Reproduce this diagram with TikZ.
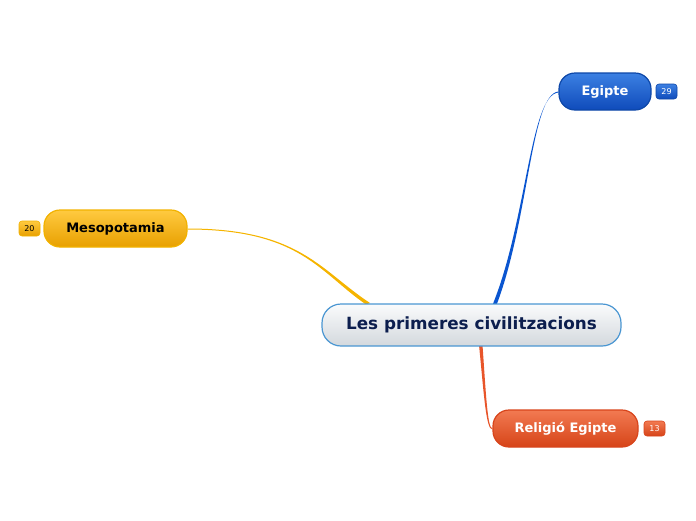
\documentclass[tikz,border=0pt]{standalone}
\usepackage{fontspec}
\setmainfont{DejaVu Sans}
\usetikzlibrary{backgrounds,calc}
\definecolor{cborder}{HTML}{4A96D2}
\definecolor{ctext}{HTML}{0C1E4E}
\definecolor{ctop}{HTML}{FAFBFC}
\definecolor{cbot}{HTML}{D3D8DD}
\definecolor{btop}{HTML}{3C80E2}
\definecolor{bbot}{HTML}{0F4BBB}
\definecolor{bborder}{HTML}{0D47A8}
\definecolor{bline}{HTML}{0A55D0}
\definecolor{ytop}{HTML}{FFCA40}
\definecolor{ybot}{HTML}{E8A000}
\definecolor{yborder}{HTML}{F2B200}
\definecolor{yline}{HTML}{F5B400}
\definecolor{rtop}{HTML}{F27A52}
\definecolor{rbot}{HTML}{D64418}
\definecolor{rborder}{HTML}{D8451C}
\definecolor{rline}{HTML}{E8552A}
\tikzset{
  topic/.style={rectangle, rounded corners=16pt, inner sep=0pt, line width=1.2pt, font=\bfseries\fontsize{13}{15}\selectfont},
  badge/.style={rectangle, rounded corners=3pt, inner sep=0pt, minimum width=21pt, minimum height=15pt, line width=0.6pt, font=\fontsize{8}{9}\selectfont},
}
\begin{document}
\begin{tikzpicture}[x=1pt,y=-1pt]
\useasboundingbox (0,0) rectangle (696,520);
% central
\node[topic, rounded corners=19pt, draw=cborder, top color=ctop, bottom color=cbot, text=ctext,
  minimum width=299pt, minimum height=42pt, font=\bfseries\fontsize{16.8}{19}\selectfont] (c) at (471.5,325) {Les primeres civilitzacions};
% Egipte
\node[topic, draw=bborder, top color=btop, bottom color=bbot, text=white,
  minimum width=92pt, minimum height=37pt] (eg) at (605,91.5) {Egipte};
\node[badge, draw=bborder, top color=btop, bottom color=bbot, text=white] (egb) at (666.5,91.5) {29};
% Mesopotamia
\node[topic, draw=yborder, top color=ytop, bottom color=ybot, text=black,
  minimum width=143pt, minimum height=37pt] (me) at (115.5,228.5) {Mesopotamia};
\node[badge, draw=yborder, top color=ytop, bottom color=ybot, text=black] (meb) at (29.5,228.5) {20};
% Religio
\node[topic, draw=rborder, top color=rtop, bottom color=rbot, text=white,
  minimum width=145pt, minimum height=37pt] (re) at (565.5,428.5) {Religió Egipte};
\node[badge, draw=rborder, top color=rtop, bottom color=rbot, text=white] (reb) at (654.5,428.5) {13};
% connectors
\coordinate (m0) at ($(me.east)+(0,1)$);
\coordinate (m1) at (366,304.5);
\coordinate (m2) at (370,303);
\coordinate (e0) at ($(eg.west)+(0,1)$);
\coordinate (e1) at (492.5,305);
\coordinate (e2) at (496.5,305);
\coordinate (r1) at (479,345);
\coordinate (r2) at (482.5,345);
\coordinate (r0) at ($(re.west)+(0,1)$);
\begin{pgfonlayer}{background}
\fill[yline] (me.east) .. controls (300,228.5) and (321,271) .. (m2) -- (m1)
  .. controls (319,272) and (300,229.5) .. (m0) -- cycle;
\fill[bline] (eg.west) .. controls (531,94) and (529,220) .. (e2) -- (e1)
  .. controls (527,220) and (530,95) .. (e0) -- cycle;
\fill[rline] (r1) .. controls (484,395) and (486,429.5) .. (r0) -- (re.west)
  .. controls (487.5,428) and (486,395) .. (r2) -- cycle;
\end{pgfonlayer}
\end{tikzpicture}
\end{document}
